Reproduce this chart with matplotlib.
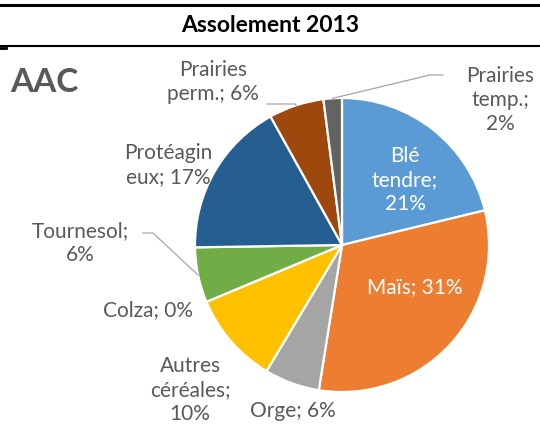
import numpy as np
import matplotlib
matplotlib.use("Agg")
import matplotlib.pyplot as plt
from matplotlib.lines import Line2D

plt.rcParams['font.family'] = ['Lato', 'DejaVu Sans']

# Crop rotation 2013 (share of area, %)
categories = ["Blé tendre", "Maïs", "Orge", "Autres céréales", "Colza",
              "Tournesol", "Protéagineux", "Prairies perm.", "Prairies temp."]
shares = [21, 31, 6, 10, 0, 6, 17, 6, 2]
label_texts = ["Blé\ntendre;\n21%", "Maïs; 31%", "Orge; 6%", "Autres\ncéréales;\n10%",
               "Colza; 0%", "Tournesol;\n6%", "Protéagin\neux; 17%",
               "Prairies\nperm.; 6%", "Prairies\ntemp.;\n2%"]
colors = ["#5B9BD5", "#ED7D31", "#A5A5A5", "#FFC000", "#4472C4",
          "#70AD47", "#255E91", "#9E480E", "#636363"]

W, H = 540, 430
fig = plt.figure(figsize=(W / 100, H / 100), dpi=100)
ax = fig.add_axes([0, 0, 1, 1])

cx, cy, r = 342, H - 245, 147
wedges, _ = ax.pie(shares, colors=colors, startangle=90, counterclock=False,
                   center=(cx, cy), radius=r, frame=True,
                   wedgeprops=dict(edgecolor="white", linewidth=1.6))
ax.set_xlim(0, W)
ax.set_ylim(0, H)
ax.set_aspect("equal")
ax.axis("off")

grey = "#595959"
fs = 15
# label centres in pixel space (x, y from top) and colour
label_pos = {
    "Blé tendre": (405, 180, "white"),
    "Maïs": (415, 287, "white"),
    "Orge": (293, 411, grey),
    "Autres céréales": (190, 390, grey),
    "Colza": (148, 310, grey),
    "Tournesol": (80, 243, grey),
    "Protéagineux": (168, 165, grey),
    "Prairies perm.": (213, 82, grey),
    "Prairies temp.": (500, 100, grey),
}
for name, txt in zip(categories, label_texts):
    x, y, c = label_pos[name]
    ax.text(x, H - y, txt, ha="center", va="center", fontsize=fs, color=c,
            linespacing=1.25)


def wedge_edge_point(i, frac=1.0):
    w = wedges[i]
    mid = np.deg2rad((w.theta1 + w.theta2) / 2)
    return cx + r * frac * np.cos(mid), cy + r * frac * np.sin(mid)


lc = "#A6A6A6"
# leader lines: category index and the label-side points (pixel coords from top)
leaders = [
    (8, [(443, 75), (430, 75)]),
    (7, [(267, 104), (295, 104)]),
    (5, [(143, 233), (153, 233)]),
]
for idx, pts in leaders:
    ex, ey = wedge_edge_point(idx, 1.0)
    xs = [p[0] for p in pts] + [ex]
    ys = [H - p[1] for p in pts] + [ey]
    ax.add_line(Line2D(xs, ys, color=lc, lw=0.9))

# header and frame lines
ax.add_line(Line2D([0, 538], [H - 4.5, H - 4.5], color="black", lw=2.2))
ax.add_line(Line2D([0, W], [H - 46, H - 46], color="black", lw=1.5))
ax.add_line(Line2D([0, 6], [H - 47.5, H - 47.5], color="black", lw=2))
ax.text(270, H - 25, "Assolement 2013", ha="center", va="center",
        fontsize=16.5, fontweight="bold", color="black")
ax.text(10, H - 82, "AAC", ha="left", va="center", fontsize=24,
        fontweight="bold", color=grey)

fig.savefig("out.png", dpi=100)
